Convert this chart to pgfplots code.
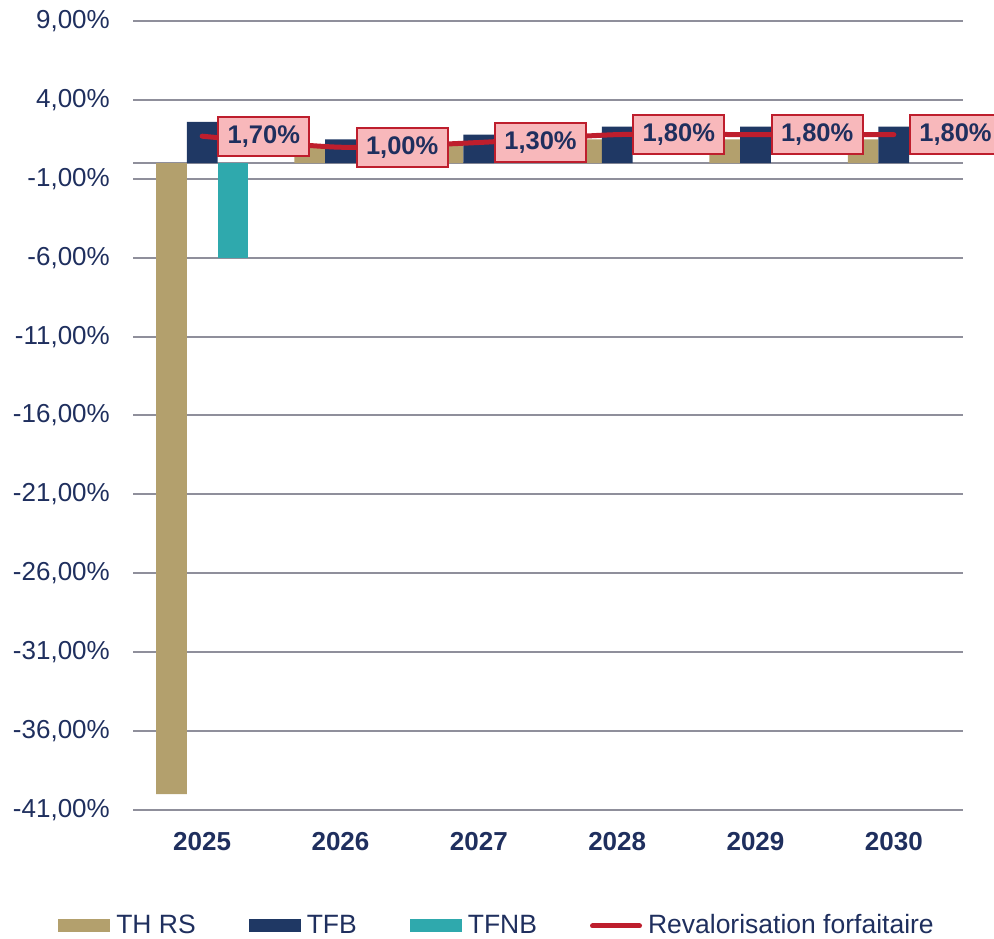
\documentclass[border=0pt]{standalone}
\usepackage{pgfplots}
\pgfplotsset{compat=1.18}
\usepackage{fontspec}
\setmainfont{Liberation Sans}
\definecolor{thrs}{HTML}{B3A06D}
\definecolor{tfb}{HTML}{1F3864}
\definecolor{tfnb}{HTML}{2FA9AD}
\definecolor{revred}{HTML}{BE1E2D}
\definecolor{lblpink}{HTML}{F8B8BB}
\definecolor{navy}{HTML}{1F2F5E}
\definecolor{gridgray}{HTML}{8F8F9B}
\begin{document}
\fontsize{26bp}{31bp}\selectfont
\begin{tikzpicture}
\useasboundingbox (0bp,0bp) rectangle (994bp,939bp);
\begin{axis}[
  at={(133bp,129bp)}, anchor=south west,
  scale only axis, width=830bp, height=789bp,
  xmin=-0.5, xmax=5.5, ymin=-41, ymax=9,
  clip=false,
  axis line style={draw=none},
  tick style={draw=none},
  major tick length=0pt,
  xtick={0,1,2,3,4,5},
  xticklabels={2025,2026,2027,2028,2029,2030},
  xticklabel style={anchor=north, inner sep=0pt, yshift=-22.5bp, font=\bfseries\fontsize{26bp}{31bp}\selectfont, text=navy},
  ytick={-41,-36,-31,-26,-21,-16,-11,-6,-1,4,9},
  yticklabels={{-41,00\%},{-36,00\%},{-31,00\%},{-26,00\%},{-21,00\%},{-16,00\%},{-11,00\%},{-6,00\%},{-1,00\%},{4,00\%},{9,00\%}},
  yticklabel style={anchor=east, inner sep=0pt, xshift=-23bp, font=\fontsize{26bp}{31bp}\selectfont, text=navy},
  ymajorgrids,
  grid style={draw=gridgray, line width=2bp},
  extra y ticks={0},
  extra y tick labels={},
  extra y tick style={grid=major},
  legend columns=4,
  legend style={at={(0.4392,-0.1470)}, anchor=center, draw=none, fill=none,
    font=\fontsize{26.5bp}{30bp}\selectfont, text=navy,
    inner sep=0pt, nodes={inner sep=3bp},
    /tikz/every odd column/.append style={column sep=3bp},
    /tikz/every even column/.append style={column sep=50bp}},
]
\addplot[ybar, bar width=30.7bp, bar shift=-30.7bp, fill=thrs, draw=none,
  legend image code/.code={\fill[thrs] (0bp,-6.5bp) rectangle (52bp,6.5bp);}]
  coordinates {(0,-40) (1,1.0) (2,1.1) (3,1.5) (4,1.5) (5,1.5)};
\addlegendentry{TH RS}
\addplot[ybar, bar width=30.7bp, bar shift=0bp, fill=tfb, draw=none,
  legend image code/.code={\fill[tfb] (0bp,-6.5bp) rectangle (52bp,6.5bp);}]
  coordinates {(0,2.6) (1,1.5) (2,1.8) (3,2.3) (4,2.3) (5,2.3)};
\addlegendentry{TFB}
\addplot[ybar, bar width=30.7bp, bar shift=30.7bp, fill=tfnb, draw=none,
  legend image code/.code={\fill[tfnb] (0bp,-6.5bp) rectangle (52bp,6.5bp);}]
  coordinates {(0,-6)};
\addlegendentry{TFNB}
\addplot[revred, line width=5bp, line cap=round, mark=none, smooth, tension=0.4,
  legend image code/.code={\draw[revred, line width=5bp, line cap=round] (2.5bp,0bp) -- (49.5bp,0bp);},
  nodes near coords={\pgfmathprintnumber[fixed,fixed zerofill,precision=2,use comma,assume math mode=true]{\pgfplotspointmeta}\%},
  every node near coord/.append style={anchor=west, xshift=15bp, fill=lblpink, draw=revred, line width=2bp,
    font=\bfseries\fontsize{25.5bp}{30bp}\selectfont, text=navy, minimum height=39bp, inner xsep=9.5bp, inner ysep=0bp}]
  coordinates {(0,1.7) (1,1.0) (2,1.3) (3,1.8) (4,1.8) (5,1.8)};
\addlegendentry{Revalorisation forfaitaire}
\end{axis}
\end{tikzpicture}
\end{document}
